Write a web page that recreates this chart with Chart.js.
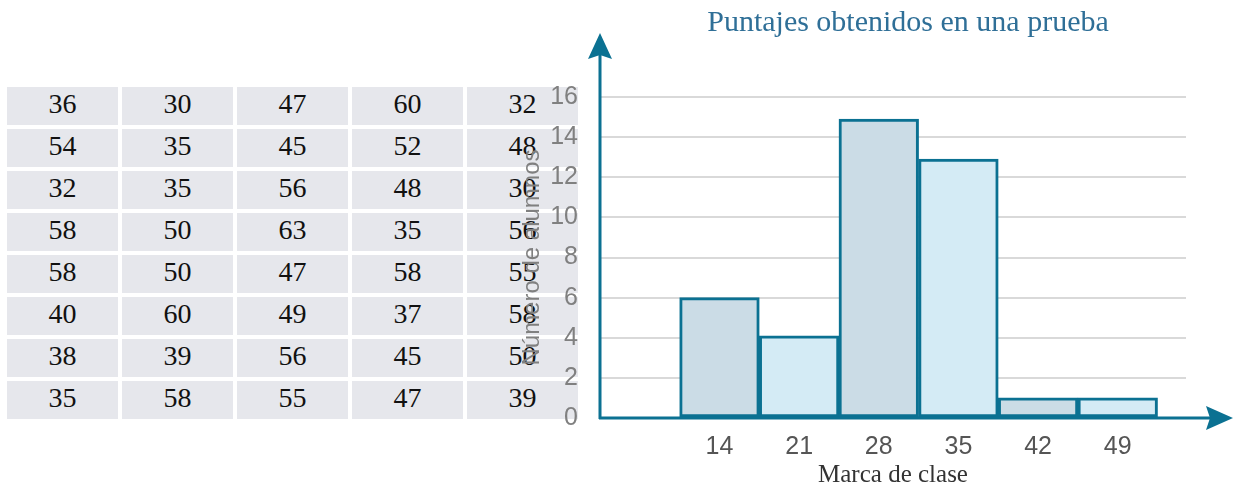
<!DOCTYPE html>
<html>
<head>
<meta charset="utf-8">
<script src="https://cdn.jsdelivr.net/npm/chart.js@4.4.0/dist/chart.umd.min.js"></script>
<style>
  html, body { margin: 0; padding: 0; background: #fff; }
  #wrap { position: relative; width: 1236px; height: 488px; overflow: hidden; }
  #scores { position: absolute; left: 0; top: 0; }
  .cell {
    position: absolute; width: 111px; height: 38px; background: #e6e7ec;
    font-family: "Liberation Serif", serif; font-size: 28px; color: #111;
    text-align: center; line-height: 34px;
  }
  #chartBox { position: absolute; left: 0; top: 0; width: 1236px; height: 488px; }
</style>
</head>
<body>
<div id="wrap">
  <div id="scores"></div>
  <div id="chartBox"><canvas id="histo"></canvas></div>
</div>
<script>
// ---------- DATA ----------
const scoreRows = [
  [36, 30, 47, 60, 32],
  [54, 35, 45, 52, 48],
  [32, 35, 56, 48, 30],
  [58, 50, 63, 35, 56],
  [58, 50, 47, 58, 55],
  [40, 60, 49, 37, 58],
  [38, 39, 56, 45, 50],
  [35, 58, 55, 47, 39]
];
const classMarks = [14, 21, 28, 35, 42, 49];
const studentCounts = [6, 4.1, 14.9, 12.9, 1, 1];
const yTicks = [0, 2, 4, 6, 8, 10, 12, 14, 16];

const chartTitle = "Puntajes obtenidos en una prueba";
const xTitle = "Marca de clase";
const yTitle = "Número de alumnos";

const teal = "#0b7192";
const barFills = ["#cbdce6", "#d4ebf5"];

// ---------- TABLE ----------
const scores = document.getElementById("scores");
scoreRows.forEach((row, r) => {
  row.forEach((val, c) => {
    const d = document.createElement("div");
    d.className = "cell";
    d.style.left = (7 + c * 115) + "px";
    d.style.top = (87 + r * 42) + "px";
    d.textContent = val;
    scores.appendChild(d);
  });
});

// ---------- AXES WITH ARROWS + TITLE ----------
const arrowAxes = {
  id: "arrowAxes",
  afterDatasetsDraw(chart) {
    const { ctx, chartArea } = chart;
    const x0 = chartArea.left, y0 = chartArea.bottom;
    ctx.save();
    ctx.strokeStyle = teal;
    ctx.fillStyle = teal;
    ctx.lineWidth = 3;
    ctx.beginPath();
    ctx.moveTo(x0, y0 + 1);
    ctx.lineTo(x0, 50);
    ctx.moveTo(x0 - 1, y0);
    ctx.lineTo(1215, y0);
    ctx.stroke();
    // y arrow head
    ctx.beginPath();
    ctx.moveTo(x0, 33);
    ctx.lineTo(x0 + 12, 59);
    ctx.lineTo(x0, 55);
    ctx.lineTo(x0 - 12, 59);
    ctx.closePath();
    ctx.fill();
    // x arrow head
    ctx.beginPath();
    ctx.moveTo(1233, y0);
    ctx.lineTo(1206, y0 + 12);
    ctx.lineTo(1210, y0);
    ctx.lineTo(1206, y0 - 12);
    ctx.closePath();
    ctx.fill();
    // title
    ctx.font = "30px 'Liberation Serif', serif";
    ctx.fillStyle = "#2f6f97";
    ctx.textAlign = "center";
    ctx.textBaseline = "alphabetic";
    ctx.fillText(chartTitle, 908, 31);
    ctx.restore();
  }
};

// ---------- CHART ----------
const ctx = document.getElementById("histo").getContext("2d");
new Chart(ctx, {
  type: "bar",
  data: {
    datasets: [{
      data: classMarks.map((m, i) => ({ x: m, y: studentCounts[i] })),
      backgroundColor: classMarks.map((m, i) => barFills[i % 2]),
      borderColor: teal,
      borderWidth: 3,
      borderSkipped: false,
      barPercentage: 1,
      categoryPercentage: 1
    }]
  },
  options: {
    responsive: true,
    maintainAspectRatio: false,
    animation: false,
    layout: { padding: { left: 514, right: 50, top: 97, bottom: 0 } },
    plugins: {
      legend: { display: false },
      tooltip: { enabled: false }
    },
    scales: {
      x: {
        type: "linear",
        offset: false,
        min: 3.5,
        max: 55,
        afterBuildTicks: (scale) => { scale.ticks = classMarks.map(v => ({ value: v })); },
        afterFit: (scale) => { scale.height = 70; },
        grid: { display: false, offset: false },
        border: { display: false },
        ticks: {
          color: "#555",
          font: { family: "'Liberation Sans', sans-serif", size: 25 },
          padding: 6,
          autoSkip: false,
          maxRotation: 0
        },
        title: {
          display: true,
          text: xTitle,
          color: "#333",
          font: { family: "'Liberation Serif', serif", size: 25, lineHeight: 1.0 },
          padding: { top: 0, bottom: 0 }
        }
      },
      y: {
        min: 0,
        max: 16,
        afterBuildTicks: (scale) => { scale.ticks = yTicks.map(v => ({ value: v })); },
        afterFit: (scale) => { scale.width = 86; },
        grid: { color: "#d9d9d9", lineWidth: 2, drawTicks: false },
        border: { display: false },
        ticks: {
          color: "#808080",
          font: { family: "'Liberation Sans', sans-serif", size: 25 },
          padding: 22
        },
        title: {
          display: true,
          text: yTitle,
          color: "#808080",
          font: { family: "'Liberation Sans', sans-serif", size: 24 },
          padding: { top: 4, bottom: 0 }
        }
      }
    }
  },
  plugins: [arrowAxes]
});
</script>
</body>
</html>
